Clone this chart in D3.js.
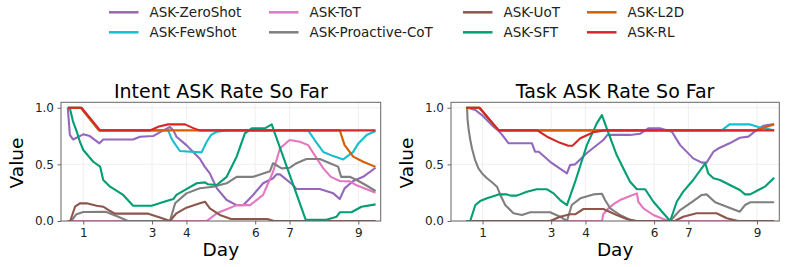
<!DOCTYPE html>
<html>
<head>
<meta charset="utf-8">
<script src="https://cdn.jsdelivr.net/npm/d3@7"></script>
<style>
  body { margin: 0; background: #fff; }
  svg { display: block; font-family: "DejaVu Sans", sans-serif; }
</style>
</head>
<body>
<svg id="chart" width="796" height="267"></svg>
<script>
// Legend / series names and colours
const seriesNames = ["ASK-ZeroShot", "ASK-FewShot", "ASK-ToT", "ASK-Proactive-CoT", "ASK-UoT", "ASK-SFT", "ASK-L2D", "ASK-RL"];
const seriesColors = ["#9467bd", "#17becf", "#e377c2", "#7f7f7f", "#8c564b", "#009e73", "#d55e00", "#d62728"];

const xTicks = [1, 3, 4, 6, 7, 9];
const yTicks = [0, 0.5, 1.0];

// Intent ASK rate, [day, value]
const intentZeroShot = [[0.55,1.0],[0.61,0.76],[0.7,0.72],[1.0,0.765],[1.19,0.75],[1.47,0.686],[1.58,0.72],[2.45,0.72],[2.65,0.744],[3.03,0.75],[3.33,0.80],[3.52,0.83],[3.62,0.80],[3.71,0.744],[4.0,0.67],[4.39,0.55],[4.53,0.48],[4.68,0.42],[4.88,0.29],[5.17,0.185],[5.46,0.14],[5.65,0.14],[5.94,0.23],[6.23,0.333],[6.52,0.377],[6.62,0.412],[6.72,0.412],[7.1,0.318],[7.2,0.282],[7.88,0.282],[8.27,0.244],[8.46,0.194],[8.6,0.288],[8.85,0.353],[9.14,0.39],[9.5,0.47]];
const intentFewShot = [[0.55,1.0],[0.93,1.0],[1.455,0.8],[3.47,0.8],[3.55,0.74],[3.62,0.7],[3.81,0.618],[4.44,0.606],[4.59,0.7],[4.72,0.76],[4.88,0.788],[5.17,0.8],[7.54,0.8],[7.73,0.715],[7.98,0.61],[8.27,0.573],[8.56,0.544],[8.85,0.61],[9.0,0.685],[9.24,0.76],[9.5,0.794]];
const intentToT = [[0.55,0],[4.59,0],[4.88,0.068],[5.17,0.103],[5.46,0.14],[5.85,0.14],[6.23,0.23],[6.52,0.435],[6.72,0.64],[7.0,0.715],[7.3,0.7],[7.54,0.67],[7.98,0.465],[8.2,0.39],[8.46,0.353],[8.75,0.35],[8.93,0.318],[9.5,0.25]];
const intentProCoT = [[0.55,0],[0.65,0],[0.8,0.06],[1.0,0.08],[1.65,0.082],[2.0,0.04],[2.3,0],[3.52,0],[3.67,0.156],[4.0,0.244],[4.39,0.289],[4.78,0.303],[5.17,0.333],[5.46,0.39],[5.94,0.39],[6.23,0.42],[6.43,0.44],[6.52,0.51],[6.77,0.465],[7.0,0.47],[7.2,0.51],[7.49,0.547],[7.88,0.547],[8.17,0.51],[8.41,0.48],[8.5,0.39],[8.75,0.39],[8.95,0.362],[9.2,0.32],[9.5,0.265]];
const intentUoT = [[0.55,0],[0.62,0],[0.76,0.126],[0.9,0.156],[1.1,0.156],[1.39,0.135],[1.58,0.126],[1.78,0.088],[1.92,0.065],[2.89,0.065],[3.23,0.03],[3.52,0],[3.71,0.068],[4.0,0.118],[4.39,0.156],[4.54,0.17],[4.68,0.112],[4.97,0.053],[5.3,0.018],[6.35,0.018],[6.55,0],[9.5,0]];
const intentSFT = [[0.55,1.0],[0.61,0.995],[0.7,0.88],[0.81,0.79],[0.9,0.7],[1.0,0.627],[1.29,0.523],[1.49,0.48],[1.58,0.362],[1.78,0.303],[2.16,0.23],[2.45,0.135],[2.99,0.135],[3.42,0.176],[3.62,0.194],[3.71,0.23],[3.96,0.274],[4.3,0.333],[4.54,0.341],[4.63,0.324],[4.88,0.318],[5.17,0.39],[5.46,0.568],[5.7,0.774],[5.9,0.818],[6.28,0.818],[6.48,0.853],[6.52,0.818],[7.47,0.01],[8.07,0.01],[8.37,0.038],[8.46,0.077],[8.8,0.077],[9.09,0.126],[9.5,0.147]];
const intentL2D = [[0.55,1.0],[0.93,1.0],[1.455,0.8],[8.46,0.8],[8.6,0.67],[8.85,0.568],[9.14,0.523],[9.5,0.478]];
const intentRL = [[0.55,1.0],[0.95,1.0],[1.49,0.8],[2.94,0.8],[3.2,0.835],[3.47,0.853],[3.96,0.853],[4.2,0.82],[4.39,0.8],[9.5,0.8]];

// Task ASK rate, [day, value]
const taskZeroShot = [[0.57,1.0],[0.79,0.98],[0.98,0.935],[1.32,0.832],[1.47,0.794],[1.56,0.765],[1.76,0.686],[2.44,0.686],[2.53,0.612],[2.64,0.612],[2.97,0.523],[3.46,0.42],[3.55,0.494],[3.7,0.5],[4.04,0.6],[4.52,0.715],[4.64,0.76],[5.3,0.76],[5.59,0.77],[5.83,0.818],[6.17,0.818],[6.52,0.788],[6.76,0.67],[7.14,0.553],[7.39,0.515],[7.53,0.515],[7.73,0.612],[7.87,0.64],[8.2,0.686],[8.5,0.735],[8.75,0.745],[8.99,0.803],[9.18,0.84],[9.5,0.855]];
const taskFewShot = [[0.52,1.0],[0.91,1.0],[1.47,0.8],[7.97,0.8],[8.2,0.853],[8.8,0.853],[9.04,0.83],[9.5,0.8]];
const taskToT = [[0.52,0],[4.48,0],[4.52,0.06],[4.67,0.112],[4.85,0.155],[5.01,0.185],[5.3,0.22],[5.5,0.244],[5.54,0.17],[5.69,0.112],[5.98,0.053],[6.27,0.018],[6.46,0],[9.5,0]];
const taskProCoT = [[0.55,1.0],[0.56,0.906],[0.59,0.818],[0.64,0.72],[0.69,0.642],[0.78,0.54],[0.88,0.465],[1.0,0.415],[1.13,0.377],[1.3,0.335],[1.42,0.303],[1.52,0.23],[1.66,0.141],[1.9,0.068],[2.15,0.053],[2.39,0.077],[2.97,0.077],[3.26,0.038],[3.46,0],[3.6,0.141],[3.85,0.2],[4.23,0.235],[4.48,0.24],[4.57,0.185],[4.72,0.112],[5.01,0.053],[5.3,0.01],[5.5,0],[6.47,0],[6.76,0.097],[7.14,0.176],[7.39,0.23],[7.53,0.235],[7.78,0.165],[8.12,0.126],[8.5,0.082],[8.65,0.141],[8.8,0.165],[9.5,0.165]];
const taskUoT = [[0.52,0],[2.97,0],[3.26,0.038],[3.55,0.059],[3.7,0.059],[3.94,0.106],[4.52,0.106],[4.91,0.053],[5.2,0.018],[5.45,0],[6.6,0],[6.85,0.038],[7.24,0.068],[7.82,0.068],[8.12,0.024],[8.45,0],[9.5,0]];
const taskSFT = [[0.52,0],[0.64,0],[0.79,0.141],[0.93,0.176],[1.13,0.2],[1.47,0.235],[1.71,0.235],[1.81,0.224],[2.0,0.224],[2.29,0.259],[2.58,0.28],[2.88,0.28],[3.07,0.244],[3.26,0.185],[3.46,0.141],[3.7,0.347],[4.04,0.67],[4.33,0.862],[4.48,0.935],[4.62,0.818],[4.91,0.582],[5.2,0.406],[5.3,0.347],[5.5,0.28],[5.74,0.28],[5.98,0.17],[6.27,0.068],[6.47,0],[6.66,0.17],[6.85,0.259],[7.14,0.362],[7.49,0.509],[7.58,0.42],[7.73,0.377],[7.92,0.362],[8.21,0.318],[8.5,0.274],[8.65,0.235],[8.8,0.235],[9.04,0.274],[9.23,0.303],[9.5,0.382]];
const taskL2D = [[0.52,1.0],[0.91,1.0],[1.47,0.8],[8.97,0.8],[9.26,0.83],[9.5,0.853]];
const taskRL = [[0.52,1.0],[0.91,1.0],[1.47,0.8],[2.6,0.8],[2.72,0.775],[2.88,0.744],[3.26,0.69],[3.5,0.665],[3.62,0.665],[3.85,0.73],[4.23,0.783],[4.55,0.8],[9.5,0.8]];

const svg = d3.select("#chart");

const panels = [
  { title: "Intent ASK Rate So Far", left: 61, right: 380.7, xMin: 0.352,
    series: [intentZeroShot, intentFewShot, intentToT, intentProCoT, intentUoT, intentSFT, intentL2D, intentRL] },
  { title: "Task ASK Rate So Far", left: 451, right: 779.3, xMin: 0.08,
    series: [taskZeroShot, taskFewShot, taskToT, taskProCoT, taskUoT, taskSFT, taskL2D, taskRL] }
];

const plotTop = 102.3, plotBottom = 221;

panels.forEach((p, i) => {
  const x = d3.scaleLinear().domain([p.xMin, 9.65]).range([p.left, p.right]);
  const y = d3.scaleLinear().domain([0, 1.048]).range([plotBottom, plotTop]);
  const g = svg.append("g");

  // grid
  g.selectAll(".vgrid").data(xTicks).enter().append("line")
    .attr("x1", d => x(d)).attr("x2", d => x(d))
    .attr("y1", plotTop).attr("y2", plotBottom)
    .attr("stroke", "#ebebeb").attr("stroke-width", 0.8);
  g.selectAll(".hgrid").data(yTicks).enter().append("line")
    .attr("x1", p.left).attr("x2", p.right)
    .attr("y1", d => y(d)).attr("y2", d => y(d))
    .attr("stroke", "#ebebeb").attr("stroke-width", 0.8);

  // lines
  const clipId = "clip" + i;
  g.append("clipPath").attr("id", clipId).append("rect")
    .attr("x", p.left).attr("y", plotTop).attr("width", p.right - p.left).attr("height", plotBottom - plotTop);
  const line = d3.line().x(d => x(d[0])).y(d => y(d[1]));
  g.append("g").attr("clip-path", `url(#${clipId})`)
    .selectAll("path").data(p.series).enter().append("path")
    .attr("d", line)
    .attr("fill", "none")
    .attr("stroke", (d, k) => seriesColors[k])
    .attr("stroke-width", 2.1)
    .attr("stroke-linejoin", "round");

  // frame
  g.append("rect").attr("x", p.left).attr("y", plotTop)
    .attr("width", p.right - p.left).attr("height", plotBottom - plotTop)
    .attr("fill", "none").attr("stroke", "#666").attr("stroke-width", 1);

  // axes
  const xAxis = g.append("g").attr("transform", `translate(0,${plotBottom})`)
    .call(d3.axisBottom(x).tickValues(xTicks).tickFormat(d3.format("d")).tickSize(3.5).tickPadding(3.5));
  const yAxis = g.append("g").attr("transform", `translate(${p.left},0)`)
    .call(d3.axisLeft(y).tickValues(yTicks).tickFormat(d3.format(".1f")).tickSize(3.5).tickPadding(3.5));
  [xAxis, yAxis].forEach(a => {
    a.select(".domain").remove();
    a.selectAll("line").attr("stroke", "#666");
    a.selectAll("text").attr("fill", "#222").style("font-size", "12px").style("font-family", "DejaVu Sans");
  });

  // labels
  g.append("text").attr("x", (p.left + p.right) / 2).attr("y", 97.5)
    .attr("text-anchor", "middle").style("font-size", "19px").text(p.title);
  g.append("text").attr("x", (p.left + p.right) / 2).attr("y", 256)
    .attr("text-anchor", "middle").style("font-size", "18.5px").text("Day");
  g.append("text").attr("transform", `translate(${p.left - 38.5},163) rotate(-90)`)
    .attr("text-anchor", "middle").style("font-size", "18.5px").text("Value");
});

// legend: 4 columns, filled column by column
const legendCols = [109, 269, 463, 587];
const legendRows = [12.3, 32.3];
const legend = svg.append("g").selectAll("g").data(seriesNames).enter().append("g")
  .attr("transform", (d, k) => `translate(${legendCols[Math.floor(k / 2)]},${legendRows[k % 2]})`);
legend.append("line").attr("x1", 0).attr("x2", 29.5).attr("y1", 0).attr("y2", 0)
  .attr("stroke", (d, k) => seriesColors[k]).attr("stroke-width", 2.5);
legend.append("text").attr("x", 40.5).attr("y", 5).style("font-size", "13.5px").attr("fill", "#222").text(d => d);
</script>
</body>
</html>
